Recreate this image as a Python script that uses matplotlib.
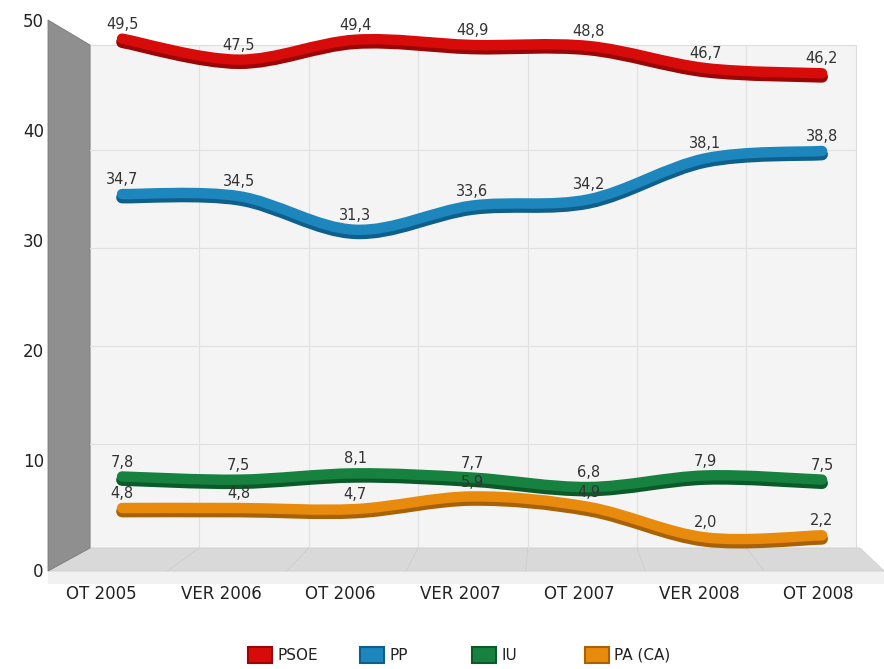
#### Recreate chart: vote estimates PSOE / PP / IU / PA (OT 2005 - OT 2008)
import numpy as np
import matplotlib
matplotlib.use("Agg")
import matplotlib.pyplot as plt
import matplotlib.transforms as mtransforms
from matplotlib.path import Path
from matplotlib.patches import PathPatch, Polygon, Rectangle

## Data
periods = ["OT 2005", "VER 2006", "OT 2006", "VER 2007", "OT 2007", "VER 2008", "OT 2008"]
psoe = [49.5, 47.5, 49.4, 48.9, 48.8, 46.7, 46.2]
pp = [34.7, 34.5, 31.3, 33.6, 34.2, 38.1, 38.8]
iu = [7.8, 7.5, 8.1, 7.7, 6.8, 7.9, 7.5]
pa = [4.8, 4.8, 4.7, 5.9, 4.9, 2.0, 2.2]
names = ["PSOE", "PP", "IU", "PA (CA)"]
colors = ["#d80b0b", "#1c86bd", "#17813f", "#e88a0c"]
shades = ["#9a0606", "#0f5f8c", "#0c5a2a", "#a86205"]

W, H = 884, 669
fig = plt.figure(figsize=(W / 100, H / 100), dpi=100)

def fx(x): return x / W # pixel -> figure fraction
def fy(y): return 1 - y / H

## Fake 3D box drawn in figure coords
tf = fig.transFigure
fig.add_artist(Polygon([(fx(48), fy(571)), (fx(884), fy(571)), (fx(884), fy(584)), (fx(48), fy(584))],
                       closed=True, transform=tf, fc="#f1f1f1", ec="none", zorder=0))
fig.add_artist(Polygon([(fx(90), fy(45)), (fx(856), fy(45)), (fx(856), fy(548)), (fx(90), fy(548))],
                       closed=True, transform=tf, fc="#f4f4f4", ec="#dddddd", lw=0.8, zorder=0))
fig.add_artist(Polygon([(fx(48), fy(571)), (fx(90), fy(548)), (fx(860), fy(548)), (fx(884), fy(571))],
                       closed=True, transform=tf, fc="#d9d9d9", ec="#cfcfcf", lw=0.6, zorder=0))
fig.add_artist(Polygon([(fx(48), fy(20)), (fx(90), fy(45)), (fx(90), fy(548)), (fx(48), fy(571))],
                       closed=True, transform=tf, fc="#8f8f8f", ec="#7a7a7a", lw=0.6, zorder=0))

# back wall grid (value v -> pixel 542 - 9.8 v), 7 columns
for v in [10, 20, 30, 40]:
    yy = fy(542 - 9.8 * v)
    fig.add_artist(plt.Line2D([fx(90), fx(856)], [yy, yy], transform=tf, color="#e0e0e0", lw=0.8, zorder=0))
for k in range(1, 7):
    xx = fx(90 + 109.4 * k)
    fig.add_artist(plt.Line2D([xx, xx], [fy(45), fy(548)], transform=tf, color="#e0e0e0", lw=0.8, zorder=0))
    fig.add_artist(plt.Line2D([xx, fx(48 + 119.4 * k)], [fy(548), fy(571)], transform=tf,
                              color="#cccccc", lw=0.6, zorder=0))

## Frame axes: front y scale and category labels
ax0 = fig.add_axes([fx(48), fy(570), fx(884) - fx(48), fy(20) - fy(570)])
ax0.set_ylim(0, 50)
ax0.set_xlim(-0.45, 6.55)
ax0.patch.set_alpha(0)
for s in ax0.spines.values():
    s.set_visible(False)
ax0.set_yticks([0, 10, 20, 30, 40, 50])
ax0.tick_params(axis="y", length=0, labelsize=12, pad=3, labelcolor="#222222")
ax0.set_xticks(range(len(periods)))
ax0.set_xticklabels(periods)
ax0.tick_params(axis="x", length=0, labelsize=12, pad=11, labelcolor="#222222")

## Data axes: lines sit a bit in front of the back wall
ax = fig.add_axes([fx(58), fy(558.4), fx(870) - fx(58), fy(33.4) - fy(558.4)])
ax.set_xlim(-0.549, 6.411)
ax.set_ylim(0, 50)
ax.axis("off")

def smooth_path(xs, ys, t=0.5):
    # cardinal spline through the points, as bezier segments
    pts = np.column_stack([np.asarray(xs, float), np.asarray(ys, float)])
    verts = [pts[0]]
    codes = [Path.MOVETO]
    n = len(pts)
    for i in range(n - 1):
        p0 = pts[max(i - 1, 0)]; p1 = pts[i]; p2 = pts[i + 1]; p3 = pts[min(i + 2, n - 1)]
        c1 = p1 + (p2 - p0) * t / 3
        c2 = p2 - (p3 - p1) * t / 3
        verts += [c1, c2, p2]
        codes += [Path.CURVE4] * 3
    return Path(verts, codes)

x = np.arange(len(periods))
series = [psoe, pp, iu, pa]
down = ax.transData + mtransforms.ScaledTranslation(0, -2.5 / 72, fig.dpi_scale_trans)
for vals, c, d in zip(series, colors, shades):
    path = smooth_path(x, vals)
    ax.add_patch(PathPatch(path, fill=False, ec=d, lw=8.5, capstyle="round", joinstyle="round",
                           transform=down, zorder=3))
    ax.add_patch(PathPatch(path, fill=False, ec=c, lw=7.5, capstyle="round", joinstyle="round", zorder=4))
    for xi, v in zip(x, vals):
        ax.annotate(f"{v:.1f}".replace(".", ","), (xi, v), xytext=(0, 5), textcoords="offset points",
                    ha="center", va="bottom", fontsize=10.5, color="#333333", zorder=6)

## Legend: one entry per slot, evenly spaced like the original
slot_x = [248, 360, 472, 585]
for sx, nm, c, d in zip(slot_x, names, colors, shades):
    h = Rectangle((0, 0), 1, 1, fc=c, ec=d, lw=1.5)
    fig.legend([h], [nm], loc="center left", bbox_to_anchor=(fx(sx), fy(655)), frameon=False,
               fontsize=11, handlelength=1.6, handleheight=1.2, handletextpad=0.3,
               borderpad=0, borderaxespad=0, labelcolor="#222222")

fig.savefig("out.png", dpi=100, facecolor="white")
